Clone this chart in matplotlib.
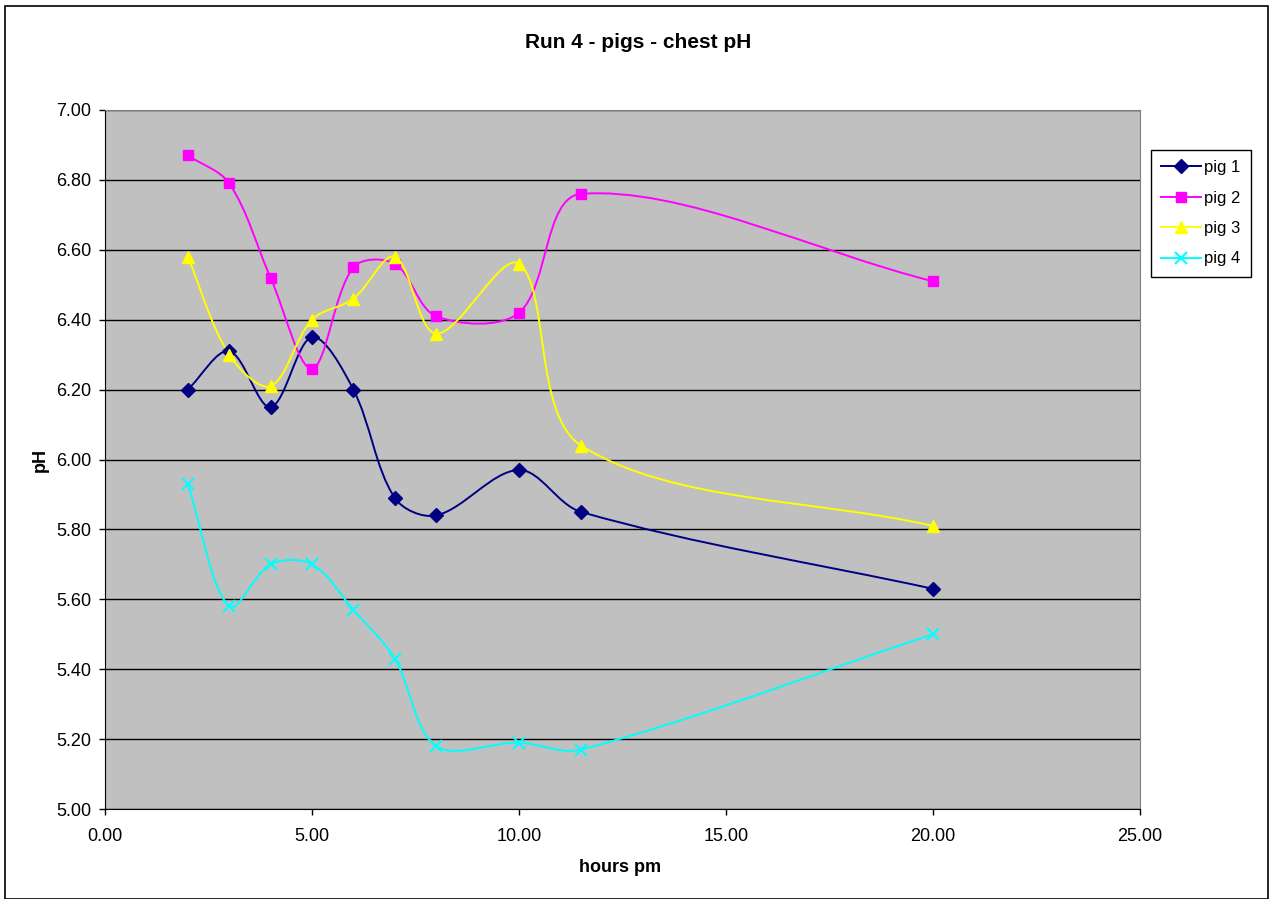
import matplotlib
matplotlib.use("Agg")
import matplotlib.pyplot as plt
import numpy as np
from matplotlib.lines import Line2D
from matplotlib.patches import PathPatch, Rectangle
from matplotlib.path import Path
from matplotlib.ticker import FormatStrFormatter, MultipleLocator

plt.rcParams["font.family"] = ["Liberation Sans", "DejaVu Sans"]

hours = [2, 3, 4, 5, 6, 7, 8, 10, 11.5, 20]
pig1 = [6.20, 6.31, 6.15, 6.35, 6.20, 5.89, 5.84, 5.97, 5.85, 5.63]
pig2 = [6.87, 6.79, 6.52, 6.26, 6.55, 6.56, 6.41, 6.42, 6.76, 6.51]
pig3 = [6.58, 6.30, 6.21, 6.40, 6.46, 6.58, 6.36, 6.56, 6.04, 5.81]
pig4 = [5.93, 5.58, 5.70, 5.70, 5.57, 5.43, 5.18, 5.19, 5.17, 5.50]

series = [
    ("pig 1", pig1, "#000080", "D", 7),
    ("pig 2", pig2, "#FF00FF", "s", 7),
    ("pig 3", pig3, "#FFFF00", "^", 8),
    ("pig 4", pig4, "#00FFFF", "x", 8),
]


def smooth_path(ax, x, y):
    # smoothed line like Excel: bezier segments, tangents scaled by chord length on screen
    pts = ax.transData.transform(np.column_stack([x, y]).astype(float))
    n = len(pts)
    verts = [pts[0]]
    codes = [Path.MOVETO]
    for i in range(n - 1):
        p0 = pts[max(i - 1, 0)]
        p1 = pts[i]
        p2 = pts[i + 1]
        p3 = pts[min(i + 2, n - 1)]
        d01 = np.hypot(*(p1 - p0))
        d12 = np.hypot(*(p2 - p1))
        d23 = np.hypot(*(p3 - p2))
        c1 = p1 + (p2 - p0) * d12 / max(d01 + d12, 1e-9) / 3.0
        c2 = p2 - (p3 - p1) * d12 / max(d12 + d23, 1e-9) / 3.0
        verts += [c1, c2, p2]
        codes += [Path.CURVE4] * 3
    verts = ax.transData.inverted().transform(np.array(verts))
    return Path(verts, codes)


fig = plt.figure(figsize=(12.71, 8.99), dpi=100)
ax = fig.add_axes([105 / 1271, 1 - 809 / 899, 1035 / 1271, 699 / 899])
ax.set_facecolor("#C0C0C0")
ax.set_xlim(0, 25)
ax.set_ylim(5.0, 7.0)

handles = []
for name, vals, color, marker, ms in series:
    ax.add_patch(PathPatch(smooth_path(ax, hours, vals), fill=False, edgecolor=color, lw=1.4, zorder=3))
    mew = 1.5 if marker == "x" else 1.0
    ax.plot(hours, vals, ls="none", marker=marker, ms=ms, color=color, mec=color, mew=mew, zorder=4)
    handles.append(Line2D([], [], color=color, lw=1.4, marker=marker, ms=ms, mew=mew, label=name))

ax.xaxis.set_major_locator(MultipleLocator(5))
ax.yaxis.set_major_locator(MultipleLocator(0.2))
ax.xaxis.set_major_formatter(FormatStrFormatter("%.2f"))
ax.yaxis.set_major_formatter(FormatStrFormatter("%.2f"))
ax.grid(axis="y", color="black", lw=1.0)
ax.set_axisbelow(True)
ax.tick_params(axis="both", direction="out", length=4, width=1, labelsize=13, color="black")
ax.tick_params(axis="y", pad=6)
ax.tick_params(axis="x", pad=10)
for side in ("left", "bottom"):
    ax.spines[side].set_color("black")
for side in ("top", "right"):
    ax.spines[side].set_color("#808080")

fig.text(638 / 1271, 1 - 43 / 899, "Run 4 - pigs - chest pH", ha="center", va="center",
         fontsize=15, fontweight="bold")
fig.text(620 / 1271, 1 - 868 / 899, "hours pm", ha="center", va="center", fontsize=13, fontweight="bold")
fig.text(40 / 1271, 1 - 460 / 899, "pH", ha="center", va="center", rotation=90, fontsize=13,
         fontweight="bold")

leg = fig.legend(handles=handles, loc="upper left", bbox_to_anchor=(1151 / 1271, 1 - 150 / 899),
                 borderaxespad=0, fontsize=12, frameon=True, fancybox=False, edgecolor="black",
                 framealpha=1, handlelength=2.4, borderpad=0.6, labelspacing=0.93, handletextpad=0.2)
leg.get_frame().set_linewidth(1.0)

fig.patches.append(Rectangle((5 / 1271, 0), 1263 / 1271, 1 - 6 / 899, transform=fig.transFigure,
                             fill=False, edgecolor="black", lw=1.2))

fig.savefig("out.png", dpi=100)
